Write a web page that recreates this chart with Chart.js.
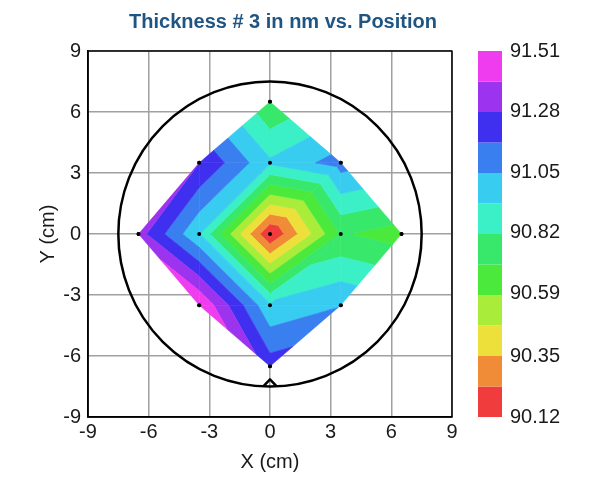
<!DOCTYPE html>
<html>
<head>
<meta charset="utf-8">
<script src="https://cdn.jsdelivr.net/npm/chart.js@4.4.1/dist/chart.umd.min.js"></script>
<style>
  body { margin: 0; background: #fff; }
</style>
</head>
<body>
<canvas id="mapa" width="600" height="481"></canvas>
<script>
// Puntos de medida sobre la oblea (cm)
const posX = [0, -3.5, 3.5, 0, 0, -3.5, 3.5, -3.5, 3.5, 0, 0, -6.5, 6.5];
const posY = [0, 0, 0, 3.5, -3.5, 3.5, 3.5, -3.5, -3.5, 6.5, -6.5, 0, 0];
// Espesor # 3 medido en cada punto (nm)
const espesor = [90.12, 90.94, 90.71, 90.95, 90.95, 91.28, 91.10, 91.51, 91.04, 90.705, 91.22, 91.33, 90.64];

// Triangulación de los puntos (índices)
const triangulos = [
    [0, 1, 3], [1, 5, 3], [0, 3, 6], [0, 6, 2],
    [0, 2, 4], [2, 8, 4], [0, 4, 1], [4, 7, 1],
    [5, 3, 9], [3, 6, 9], [6, 2, 12], [2, 8, 12],
    [8, 4, 10], [4, 7, 10], [7, 1, 11], [1, 5, 11]
];

// Escala de color
const nivMin = 90.12;
const nivMax = 91.51;
const colores = ['#f03c3c', '#f08c38', '#ede03a', '#a9ec3a', '#4be93b', '#37e86b',
                 '#3bf0c6', '#38ccf0', '#3a7ff0', '#3f30ef', '#9c33ef', '#f03cef'];
const etiquetasBarra = [90.12, 90.35, 90.59, 90.82, 91.05, 91.28, 91.51];
const ticksEje = [-9, -6, -3, 0, 3, 6, 9];
const radioOblea = 7.5;

const niveles = colores.map((c, i) => nivMin + i * (nivMax - nivMin) / colores.length);
niveles.push(nivMax);

Chart.defaults.font.family = '"Liberation Sans", Arial, sans-serif';
Chart.defaults.color = '#1a1a1a';

// Recorta un polígono por un nivel (se queda con v >= nivel o v <= nivel)
function recortar(poli, nivel, arriba) {
    const out = [];
    for (let i = 0; i < poli.length; i++) {
        const a = poli[i], b = poli[(i + 1) % poli.length];
        const dentroA = arriba ? a.v >= nivel : a.v <= nivel;
        const dentroB = arriba ? b.v >= nivel : b.v <= nivel;
        if (dentroA) out.push(a);
        if (dentroA !== dentroB) {
            const t = (nivel - a.v) / (b.v - a.v);
            out.push({ x: a.x + t * (b.x - a.x), y: a.y + t * (b.y - a.y), v: nivel });
        }
    }
    return out;
}

// Quita el margen extra que piden las etiquetas de los extremos
function sinMargen(s) {
    s.paddingTop = 0;
    s.paddingBottom = 0;
    s.paddingLeft = 0;
    s.paddingRight = 0;
}

const pluginMapa = {
    id: 'mapaContorno',
    afterDatasetsDraw(chart) {
        const { ctx, chartArea, scales: { x, y, cb } } = chart;
        ctx.save();

        // Bandas de contorno
        triangulos.forEach(tri => {
            const base = tri.map(i => ({ x: posX[i], y: posY[i], v: espesor[i] }));
            for (let k = 0; k < colores.length; k++) {
                let p = base;
                if (k > 0) p = recortar(p, niveles[k], true);
                if (k < colores.length - 1) p = recortar(p, niveles[k + 1], false);
                if (p.length < 3) continue;
                ctx.beginPath();
                p.forEach((q, j) => {
                    const px = x.getPixelForValue(q.x);
                    const py = y.getPixelForValue(q.y);
                    if (j === 0) ctx.moveTo(px, py); else ctx.lineTo(px, py);
                });
                ctx.closePath();
                ctx.fillStyle = colores[k];
                ctx.strokeStyle = colores[k];
                ctx.lineWidth = 0.6;
                ctx.fill();
                ctx.stroke();
            }
        });

        // Contorno de la oblea y muesca
        const cx = x.getPixelForValue(0);
        const cy = y.getPixelForValue(0);
        const rx = x.getPixelForValue(radioOblea) - cx;
        const ry = cy - y.getPixelForValue(radioOblea);
        ctx.strokeStyle = '#000';
        ctx.lineWidth = 2.5;
        ctx.beginPath();
        ctx.ellipse(cx, cy, rx, ry, 0, 0, Math.PI * 2);
        ctx.stroke();
        ctx.lineJoin = 'round';
        ctx.beginPath();
        ctx.moveTo(x.getPixelForValue(-0.32), y.getPixelForValue(-radioOblea + 0.02));
        ctx.lineTo(x.getPixelForValue(0), y.getPixelForValue(-radioOblea + 0.35));
        ctx.lineTo(x.getPixelForValue(0.32), y.getPixelForValue(-radioOblea + 0.02));
        ctx.stroke();

        // Marco del gráfico
        ctx.lineWidth = 1.5;
        ctx.strokeRect(chartArea.left, chartArea.top, chartArea.right - chartArea.left, chartArea.bottom - chartArea.top);

        // Barra de color
        const bx = cb.left + 26;
        for (let k = 0; k < colores.length; k++) {
            const top = cb.getPixelForValue(niveles[k + 1]);
            const bottom = cb.getPixelForValue(niveles[k]);
            ctx.fillStyle = colores[k];
            ctx.fillRect(bx, top, 24, bottom - top);
        }
        ctx.restore();

        // Los puntos de medida van encima del mapa
        chart.getDatasetMeta(0).controller.draw();
    }
};

const fuenteEje = { size: 20 };

new Chart(document.getElementById('mapa'), {
    type: 'scatter',
    data: {
        datasets: [{
            label: 'Puntos',
            data: posX.map((v, i) => ({ x: v, y: posY[i] })),
            backgroundColor: '#000',
            borderWidth: 0,
            pointRadius: 2
        }]
    },
    options: {
        responsive: false,
        animation: false,
        layout: { padding: { left: 0, right: 34, top: 0, bottom: 0 } },
        plugins: {
            legend: { display: false },
            tooltip: { enabled: false },
            title: {
                display: true,
                text: 'Thickness # 3 in nm vs. Position',
                color: '#1f5582',
                font: { size: 20, weight: 'bold' },
                padding: { top: 10, bottom: 17 }
            }
        },
        scales: {
            x: {
                type: 'linear',
                min: -9,
                max: 9,
                afterBuildTicks: s => { s.ticks = ticksEje.map(v => ({ value: v })); },
                ticks: { font: fuenteEje, padding: 3 },
                grid: { color: '#a0a0a0', lineWidth: 1.5, drawTicks: false },
                border: { color: '#000', width: 1.5 },
                title: { display: true, text: 'X (cm)', font: fuenteEje, padding: { top: 7, bottom: 7 } },
                afterFit: s => { s.height = 64; sinMargen(s); }
            },
            y: {
                type: 'linear',
                min: -9,
                max: 9,
                afterBuildTicks: s => { s.ticks = ticksEje.map(v => ({ value: v })); },
                ticks: { font: fuenteEje, padding: 7 },
                grid: { color: '#a0a0a0', lineWidth: 1.5, drawTicks: false },
                border: { color: '#000', width: 1.5 },
                title: { display: true, text: 'Y (cm)', font: fuenteEje, padding: { top: 36, bottom: 36 } },
                afterFit: s => { s.width = 88; sinMargen(s); }
            },
            cb: {
                type: 'linear',
                axis: 'y',
                position: 'right',
                min: nivMin,
                max: nivMax,
                afterBuildTicks: s => { s.ticks = etiquetasBarra.map(v => ({ value: v })); },
                ticks: { font: fuenteEje, padding: 58, callback: v => v.toFixed(2) },
                grid: { display: false, drawTicks: false },
                border: { display: false },
                afterFit: s => { s.width = 114; sinMargen(s); }
            }
        }
    },
    plugins: [pluginMapa]
});
</script>
</body>
</html>
